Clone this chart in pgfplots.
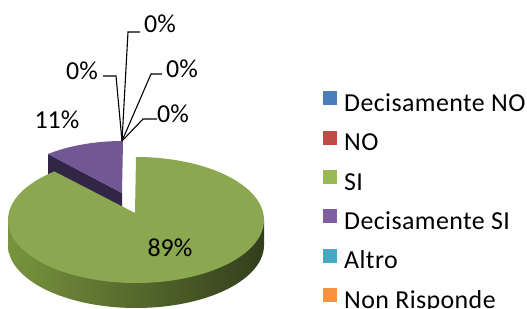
\documentclass[border=0pt]{standalone}
\usepackage{pgfplots}
\pgfplotsset{compat=1.18}
\usepackage{fontspec}
\setmainfont{Carlito}
\newfontfamily\legfont[LetterSpace=1.6]{Carlito}
\definecolor{cBlue}{RGB}{74,126,187}
\definecolor{cRed}{RGB}{190,75,72}
\definecolor{cGreen}{RGB}{152,185,84}
\definecolor{cPurple}{RGB}{125,96,160}
\definecolor{cAqua}{RGB}{70,170,197}
\definecolor{cOrange}{RGB}{246,146,64}
\definecolor{gTop}{RGB}{139,167,80}
\definecolor{gSideL}{RGB}{120,148,62}
\definecolor{gSideR}{RGB}{50,62,27}
\definecolor{pTop}{RGB}{113,88,148}
\definecolor{pSide}{RGB}{50,38,70}
\begin{document}
\fontsize{26}{31}\selectfont
\begin{tikzpicture}
\useasboundingbox (0,0) rectangle (527bp,309bp);
% data (percent)
\def\vDNO{0}\def\vNO{0}\def\vSI{89}\def\vDSI{11}\def\vAltro{0}\def\vNR{0}
\pgfmathsetmacro{\aS}{90+360-3.6*\vSI}
\pgfmathsetmacro{\spanG}{3.6*\vSI}
\pgfmathsetmacro{\spanP}{3.6*\vDSI}
\begin{axis}[at={(0,0)}, anchor=south west, scale only axis,
  width=527bp, height=309bp, xmin=0, xmax=527, ymin=0, ymax=309,
  y dir=reverse, hide axis, clip=false,
  legend image code/.code={\fill[#1, draw=none] (0bp,0bp) rectangle (14bp,14bp);},
  legend cell align=left,
  legend style={draw=none, fill=none, at={(axis cs:323,91)}, anchor=north west,
    inner sep=0pt, row sep=13.4bp, column sep=7bp,
    font=\legfont\fontsize{26}{31}\selectfont,
    nodes={inner sep=0pt, text height=18bp, text depth=6bp}},
]
% purple (exploded) side face and top
\addplot[forget plot, fill=pSide, draw=none] coordinates {(122,193) (48,154) (48,178) (122,217)};
\addplot[forget plot, fill=pTop, draw=none, domain=-1:100, samples=102, variable=\t]
  ({(\t<0) ? 122 : (123+118*cos(90+\t*\spanP/100))},
   {(\t<0) ? 193 : (198-57*sin(90+\t*\spanP/100))});
% green side
\addplot[forget plot, draw=none, left color=gSideL, right color=gSideR] coordinates {(8,220) (264,220) (264,245) (8,245)};
\addplot[forget plot, draw=none, left color=gSideL, right color=gSideR, domain=180:360, samples=120]
  ({136+128*cos(x)}, {245-63*sin(x)});
% green top
\addplot[forget plot, fill=gTop, draw=none, domain=-1:200, samples=202, variable=\t]
  ({(\t<0) ? 135 : (136+128*cos(\aS+\t*\spanG/200))},
   {(\t<0) ? 213 : (220-63*sin(\aS+\t*\spanG/200))});
% leader lines
\addplot[forget plot, black, line width=1.1bp] coordinates {(122,141) (128,32) (140,32)};
\addplot[forget plot, black, line width=1.1bp] coordinates {(122,141) (116,76) (103,76)};
\addplot[forget plot, black, line width=1.1bp] coordinates {(122,141) (151,74) (162,74)};
\addplot[forget plot, black, line width=1.1bp] coordinates {(122,141) (143,119) (157,119)};
% labels
\node at (axis cs:160,24) {\vNO\%};
\node at (axis cs:82,71) {\vDNO\%};
\node at (axis cs:182,69) {\vAltro\%};
\node at (axis cs:173,114) {\vNR\%};
\node at (axis cs:57,120) {\vDSI\%};
\node at (axis cs:170,248) {\vSI\%};
% legend
\addlegendimage{fill=cBlue}\addlegendentry{Decisamente NO}
\addlegendimage{fill=cRed}\addlegendentry{NO}
\addlegendimage{fill=cGreen}\addlegendentry{SI}
\addlegendimage{fill=cPurple}\addlegendentry{Decisamente SI}
\addlegendimage{fill=cAqua}\addlegendentry{Altro}
\addlegendimage{fill=cOrange}\addlegendentry{Non Risponde}
\end{axis}
\end{tikzpicture}
\end{document}
